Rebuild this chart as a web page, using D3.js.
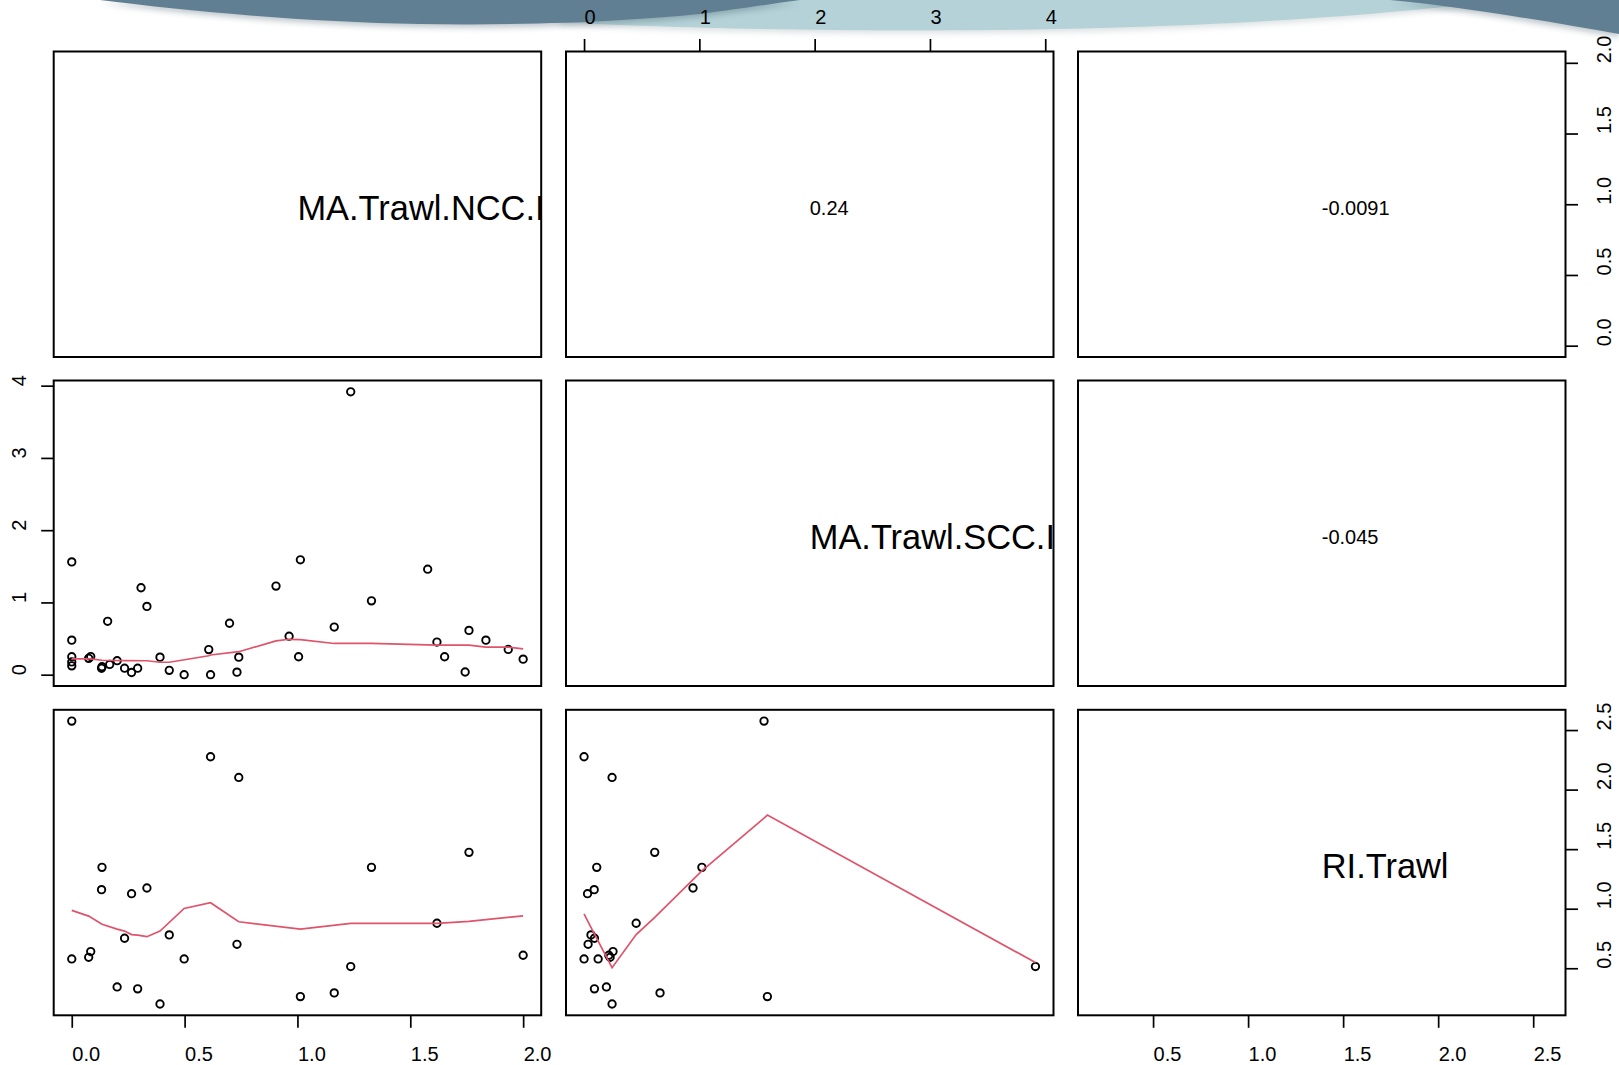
<!DOCTYPE html>
<html>
<head>
<meta charset="utf-8">
<script src="https://cdn.jsdelivr.net/npm/d3@7"></script>
<style>
  html, body { margin: 0; padding: 0; background: #ffffff; }
  svg { display: block; font-family: "Liberation Sans", Arial, Helvetica, sans-serif; }
</style>
</head>
<body>
<svg id="chart" width="1619" height="1065"></svg>
<script>
// ---- data -------------------------------------------------------------
const variables = ["MA.Trawl.NCC.Index", "MA.Trawl.SCC.Index", "RI.Trawl"];

const nccIndex = [
  0.000, 0.000, 0.000, 0.000, 0.000, 0.075, 0.084, 0.132, 0.134, 0.159,
  0.168, 0.201, 0.234, 0.265, 0.292, 0.307, 0.333, 0.391, 0.432, 0.498,
  0.607, 0.615, 0.699, 0.732, 0.740, 0.905, 0.963, 1.005, 1.013, 1.163,
  1.236, 1.328, 1.577, 1.618, 1.652, 1.743, 1.760, 1.835, 1.934, 2.000
];
const sccIndex = [
  1.561, 0.478, 0.248, 0.176, 0.122, 0.226, 0.251, 0.088, 0.110, 0.739,
  0.142, 0.194, 0.090, 0.030, 0.090, 1.203, 0.945, 0.243, 0.060, 0.000,
  0.347, 0.000, 0.712, 0.035, 0.243, 1.226, 0.533, 0.248, 1.590, 0.659,
  3.915, 1.022, 1.460, 0.452, 0.248, 0.037, 0.613, 0.478, 0.349, 0.215
];
const riTrawl = [
  2.575, null,  null,  null,  0.578, 0.592, 0.640, 1.160, 1.347, null,
  null,  0.343, 0.752, 1.126, 0.327, null,  1.174, 0.200, 0.780, 0.578,
  null,  2.276, null,  0.701, 2.102, null,  null,  null,  0.262, 0.293,
  0.514, 1.347, null,  0.878, null,  null,  1.473, null,  null,  0.609
];

// panel.smooth (lowess) traces, as [x, y] vertices
const smoothNccScc = [
  [0.000, 0.220], [0.084, 0.220], [0.134, 0.200], [0.234, 0.195], [0.333, 0.193],
  [0.391, 0.172], [0.432, 0.172], [0.607, 0.262], [0.615, 0.273], [0.740, 0.318],
  [0.905, 0.468], [0.963, 0.490], [1.013, 0.484], [1.163, 0.432], [1.328, 0.432],
  [1.618, 0.410], [1.760, 0.408], [1.835, 0.382], [1.934, 0.382], [2.000, 0.356]
];
const smoothNccRi = [
  [0.000, 0.986], [0.075, 0.938], [0.134, 0.870], [0.201, 0.829], [0.234, 0.812],
  [0.265, 0.783], [0.292, 0.778], [0.333, 0.765], [0.391, 0.812], [0.498, 1.002],
  [0.615, 1.050], [0.740, 0.890], [1.013, 0.828], [1.236, 0.877], [1.618, 0.877],
  [1.760, 0.893], [2.000, 0.940]
];
const smoothSccRi = [
  [0.000, 0.957], [0.054, 0.854], [0.243, 0.505], [0.452, 0.783], [0.613, 0.928],
  [0.945, 1.245], [1.022, 1.317], [1.561, 1.760], [1.590, 1.786], [3.915, 0.548]
];

const corrLabels = ["0.24", "-0.0091", "-0.045"];

const nccTicks = [0, 0.5, 1, 1.5, 2];
const nccTickLabels = ["0.0", "0.5", "1.0", "1.5", "2.0"];
const sccTicks = [0, 1, 2, 3, 4];
const sccTickLabels = ["0", "1", "2", "3", "4"];
const riTicks = [0.5, 1, 1.5, 2, 2.5];
const riTickLabels = ["0.5", "1.0", "1.5", "2.0", "2.5"];

// ---- layout -----------------------------------------------------------
const svg = d3.select("#chart");
const colX = [53.7, 566, 1078];
const rowY = [51.5, 380.5, 709.8];
const PW = 487.5, PH = 305.5;
const TICK = 12.5;
const smoothColor = "#DF536B";

// slide backdrop ribbons along the top edge
const deco = svg.append("g");
const defs = svg.append("defs");
defs.append("filter").attr("id", "soft").attr("x", "-5%").attr("y", "-50%").attr("width", "110%").attr("height", "250%")
  .append("feGaussianBlur").attr("stdDeviation", 3);
const tealRibbon = "M560,0 L560,22 C700,30 960,34 1160,26 C1320,20 1420,10 1510,0 Z";
const leftRibbon = "M100,0 C180,10 300,22 420,24 C540,26 640,20 700,14 C740,9 770,4 800,0 Z";
const rightRibbon = "M1390,0 C1455,6 1540,20 1619,34 L1619,0 Z";
[[tealRibbon, "#9aa9ae", "#b4d2d7"], [leftRibbon, "#3f5868", "#617f92"], [rightRibbon, "#3f5868", "#617f92"]]
  .forEach(([d, shade, fill]) => {
    deco.append("path").attr("d", d)
      .attr("fill", shade).attr("opacity", 0.35).attr("filter", "url(#soft)")
      .attr("transform", "translate(0,3)");
    deco.append("path").attr("d", d).attr("fill", fill);
  });

// ---- scales -----------------------------------------------------------
const columns = [nccIndex, sccIndex, riTrawl];
function padded(values) {
  const ext = d3.extent(values.filter(v => v != null));
  const pad = (ext[1] - ext[0]) * 0.04;
  return [ext[0] - pad, ext[1] + pad];
}
const domains = columns.map(padded);
const xScale = domains.map((dom, j) => d3.scaleLinear().domain(dom).range([colX[j], colX[j] + PW]));
const yScale = domains.map((dom, i) => d3.scaleLinear().domain(dom).range([rowY[i] + PH, rowY[i]]));

const smooths = { "1-0": smoothNccScc, "2-0": smoothNccRi, "2-1": smoothSccRi };
const corrAt = { "0-1": corrLabels[0], "0-2": corrLabels[1], "1-2": corrLabels[2] };

// ---- panels -----------------------------------------------------------
for (let i = 0; i < 3; i++) {
  for (let j = 0; j < 3; j++) {
    const g = svg.append("g");
    const x0 = colX[j], y0 = rowY[i];
    const cx = x0 + PW / 2, cy = y0 + PH / 2;

    if (i === j) {
      const clipId = "clip-" + i;
      defs.append("clipPath").attr("id", clipId)
        .append("rect").attr("x", x0).attr("y", y0).attr("width", PW).attr("height", PH);
      g.append("text")
        .attr("clip-path", `url(#${clipId})`)
        .attr("x", cx).attr("y", cy + 15.8)
        .attr("font-size", 34.4)
        .attr("fill", "#000")
        .text(variables[i]);
    } else if (i < j) {
      g.append("text")
        .attr("x", cx).attr("y", cy + 11)
        .attr("font-size", 20)
        .attr("fill", "#000")
        .text(corrAt[i + "-" + j]);
    } else {
      const xs = xScale[j], ys = yScale[i];
      const xv = columns[j], yv = columns[i];
      const pts = d3.range(xv.length)
        .filter(k => xv[k] != null && yv[k] != null)
        .map(k => [xv[k], yv[k]]);
      g.selectAll("circle").data(pts).join("circle")
        .attr("cx", d => xs(d[0])).attr("cy", d => ys(d[1]))
        .attr("r", 3.7)
        .attr("fill", "none").attr("stroke", "#000").attr("stroke-width", 1.9);
      const line = d3.line().x(d => xs(d[0])).y(d => ys(d[1]));
      g.append("path")
        .attr("d", line(smooths[i + "-" + j]))
        .attr("fill", "none").attr("stroke", smoothColor).attr("stroke-width", 1.7);
    }

    g.append("rect")
      .attr("x", x0).attr("y", y0).attr("width", PW).attr("height", PH)
      .attr("fill", "none").attr("stroke", "#000").attr("stroke-width", 2);
  }
}

// ---- axes -------------------------------------------------------------
const tickSets = [
  [nccTicks, nccTickLabels],
  [sccTicks, sccTickLabels],
  [riTicks, riTickLabels]
];

function styleAxis(sel) {
  sel.select(".domain").remove();
  sel.selectAll(".tick line").attr("stroke", "#000").attr("stroke-width", 1.7);
  sel.selectAll(".tick text")
    .attr("fill", "#000")
    .attr("font-size", 20)
    .attr("font-family", "Liberation Sans, Arial, sans-serif")
    .attr("text-anchor", "start")
    .attr("dy", null);
}

// bottom: columns 1 and 3
[0, 2].forEach(j => {
  const [ticks, labels] = tickSets[j];
  const ax = svg.append("g")
    .attr("transform", `translate(0,${rowY[2] + PH})`)
    .call(d3.axisBottom(xScale[j]).tickValues(ticks)
      .tickFormat((d, k) => labels[k]).tickSize(TICK).tickSizeOuter(0));
  styleAxis(ax);
  ax.selectAll(".tick text").attr("x", 0).attr("y", 46);
});

// top: column 2
{
  const [ticks, labels] = tickSets[1];
  const ax = svg.append("g")
    .attr("transform", `translate(0,${rowY[0]})`)
    .call(d3.axisTop(xScale[1]).tickValues(ticks)
      .tickFormat((d, k) => labels[k]).tickSize(TICK).tickSizeOuter(0));
  styleAxis(ax);
  ax.selectAll(".tick text").attr("x", 0).attr("y", -28);
}

// left: row 2
{
  const [ticks, labels] = tickSets[1];
  const ax = svg.append("g")
    .attr("transform", `translate(${colX[0]},0)`)
    .call(d3.axisLeft(yScale[1]).tickValues(ticks)
      .tickFormat((d, k) => labels[k]).tickSize(TICK).tickSizeOuter(0));
  styleAxis(ax);
  ax.selectAll(".tick text").attr("transform", "rotate(-90)").attr("x", 0).attr("y", -28.2);
}

// right: rows 1 and 3
[0, 2].forEach(i => {
  const [ticks, labels] = tickSets[i];
  const ax = svg.append("g")
    .attr("transform", `translate(${colX[2] + PW},0)`)
    .call(d3.axisRight(yScale[i]).tickValues(ticks)
      .tickFormat((d, k) => labels[k]).tickSize(TICK).tickSizeOuter(0));
  styleAxis(ax);
  ax.selectAll(".tick text").attr("transform", "rotate(-90)").attr("x", 0).attr("y", 45);
});
</script>
</body>
</html>
